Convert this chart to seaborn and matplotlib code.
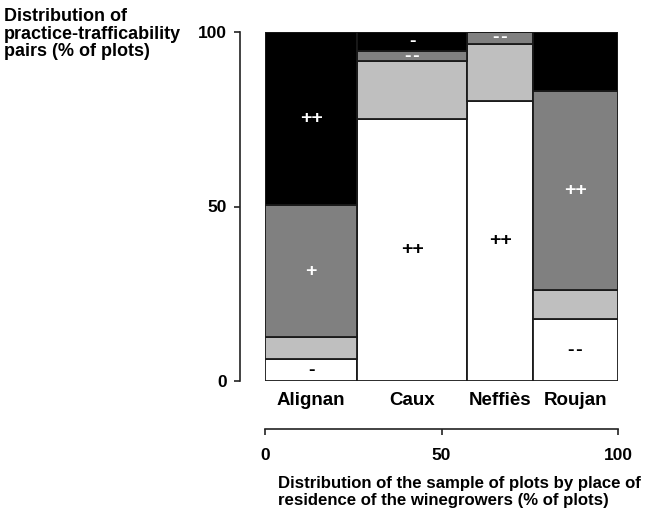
import matplotlib
matplotlib.use("Agg")
import matplotlib.pyplot as plt
import seaborn as sns
import numpy as np

# ---- data ----
places = ["Alignan", "Caux", "Neffiès", "Roujan"]
place_share = [26.1, 31.2, 18.7, 24.0]          # % of plots (bar widths)
seg_white = [6.3, 75.2, 80.3, 17.7]
seg_light = [6.4, 16.4, 16.3, 8.4]
seg_dark = [37.6, 3.0, 3.4, 56.9]
seg_black = [49.7, 5.4, 0.0, 17.0]
lbl_white = ["-", "++", "++", "--"]
lbl_light = ["", "", "", ""]
lbl_dark = ["+", "--", "--", "++"]
lbl_black = ["++", "-", "", ""]
y_ticks = [0, 50, 100]
x_ticks = [0, 50, 100]

sns.set_theme(style="ticks")
plt.rcParams['font.family'] = ['Liberation Sans', 'DejaVu Sans']
plt.rcParams['font.weight'] = 'bold'
plt.rcParams['text.color'] = 'black'
plt.rcParams['xtick.color'] = 'black'
plt.rcParams['ytick.color'] = 'black'
plt.rcParams['xtick.labelcolor'] = 'black'
plt.rcParams['ytick.labelcolor'] = 'black'

fig = plt.figure(figsize=(6.54, 5.17), dpi=100)
W, H = 654, 517
x0, x1 = 265, 618
y0, y1 = 381, 32
ax = fig.add_axes([x0 / W, 1 - y0 / H, (x1 - x0) / W, (y0 - y1) / H])

for s in ["top", "right", "bottom"]:
    ax.spines[s].set_visible(False)
ax.spines["left"].set_position(("outward", 18))
ax.spines["left"].set_linewidth(1.2)
ax.spines["left"].set_color("#222222")

widths = np.array(place_share)
lefts = np.concatenate([[0], np.cumsum(widths)[:-1]])
centers = lefts + widths / 2

segments = [(seg_white, "#ffffff", lbl_white, "black"),
            (seg_light, "#bfbfbf", lbl_light, "black"),
            (seg_dark, "#808080", lbl_dark, "white"),
            (seg_black, "#000000", lbl_black, "white")]
bottom = np.zeros(len(places))
for vals, col, lbls, tcol in segments:
    vals = np.array(vals)
    ax.bar(lefts, vals, width=widths, bottom=bottom, align="edge",
           color=col, edgecolor="#1a1a1a", linewidth=1.3)
    for i, (v, t) in enumerate(zip(vals, lbls)):
        if t:
            shown = t.replace("--", "-\u200a-")
            ax.text(centers[i], bottom[i] + v / 2, shown, ha="center",
                    va="center", color=tcol, fontsize=14,
                    fontweight="bold")
    bottom += vals

ax.set_xlim(0, 100)
ax.set_ylim(0, 100)
ax.set_xticks(centers)
ax.set_xticklabels(places)
ax.tick_params(axis="x", length=0, pad=8, labelsize=13.5)
ax.set_yticks(y_ticks)
ax.set_yticklabels([str(v) for v in y_ticks])
ax.tick_params(axis="y", length=4.3, width=1.2, color="#222222", pad=5, labelsize=12.5)

sec = ax.secondary_xaxis((y0 - 429) / (y0 - y1))
sec.spines["bottom"].set_linewidth(1.2)
sec.spines["bottom"].set_color("#222222")
sec.set_xticks(x_ticks)
sec.set_xticklabels([str(v) for v in x_ticks])
sec.tick_params(axis="x", length=4.5, width=1.2, color="#222222", pad=9,
                direction="out", labelsize=12.5)

fig.text(278 / W, 1 - 476 / H,
         "Distribution of the sample of plots by place of\nresidence of the winegrowers (% of plots)",
         ha="left", va="top", fontsize=12.1, fontweight="bold", linespacing=1.2)

fig.text(4 / W, 1 - 8 / H, "Distribution of\npractice-trafficability\npairs (% of plots)",
         ha="left", va="top", fontsize=13, fontweight="bold", linespacing=1.05)

fig.savefig("out.png", dpi=100)
